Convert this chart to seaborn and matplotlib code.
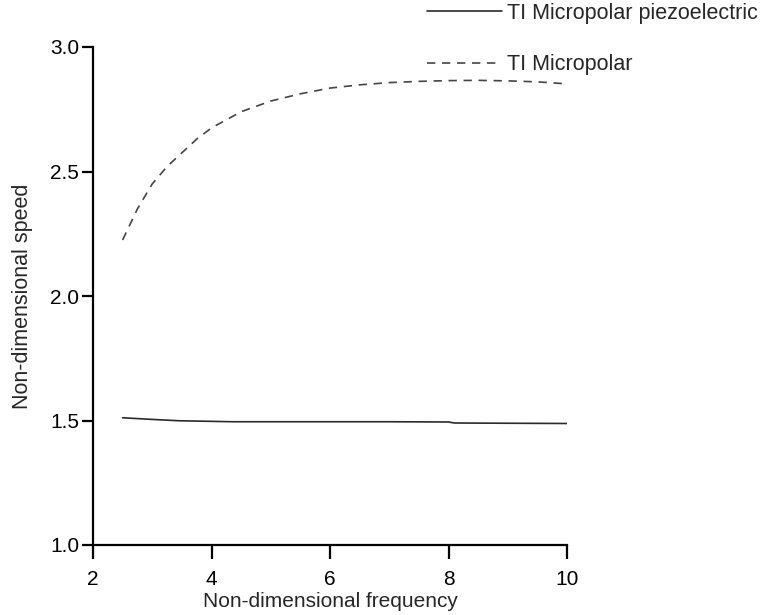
import matplotlib
matplotlib.use("Agg")
import matplotlib.pyplot as plt
import seaborn as sns
import pandas as pd
from matplotlib.lines import Line2D

# Data
freq_piezo = [2.5, 2.95, 3.45, 4.35, 5.0, 6.0, 7.0, 8.0, 8.1, 9.0, 10.0]
speed_piezo = [1.511, 1.505, 1.499, 1.495, 1.495, 1.495, 1.495, 1.494, 1.490, 1.489, 1.488]

freq_micro = [2.5, 2.75, 3.0, 3.25, 3.5, 3.75, 4.0, 4.5, 5.0, 5.5, 6.0, 6.5,
              7.0, 7.5, 8.0, 8.5, 9.0, 9.5, 10.0]
speed_micro = [2.225, 2.35, 2.45, 2.52, 2.575, 2.63, 2.675, 2.74, 2.783, 2.812,
               2.835, 2.848, 2.857, 2.862, 2.865, 2.866, 2.864, 2.86, 2.852]

labels = ["TI Micropolar piezoelectric", "TI Micropolar"]
x_ticks = [2, 4, 6, 8, 10]
y_ticks = [1.0, 1.5, 2.0, 2.5, 3.0]

df = pd.concat([
    pd.DataFrame({"freq": freq_piezo, "speed": speed_piezo, "series": labels[0]}),
    pd.DataFrame({"freq": freq_micro, "speed": speed_micro, "series": labels[1]}),
])

sns.set_style("ticks")
plt.rcParams["font.family"] = ["Liberation Sans", "DejaVu Sans"]

fig = plt.figure(figsize=(7.64, 6.15), dpi=100)
ax = fig.add_axes([93 / 764, 1 - 545 / 615, (567 - 93) / 764, (545 - 47) / 615])

colors = {labels[0]: "#2b2b2b", labels[1]: "#444444"}
sns.lineplot(data=df, x="freq", y="speed", hue="series", style="series",
             palette=colors, dashes={labels[0]: "", labels[1]: (5, 4)},
             linewidth=1.2, ax=ax, legend=False, sort=False)

ax.set_xlim(2, 10)
ax.set_ylim(1.0, 3.0)
ax.set_xticks(x_ticks)
ax.set_xticklabels([str(v) for v in x_ticks])
ax.set_yticks(y_ticks)
ax.set_yticklabels([f"{v:.1f}" for v in y_ticks])
ax.tick_params(axis="x", direction="out", length=10, width=1.6,
               labelsize=15, color="black", labelcolor="black", pad=8)
ax.tick_params(axis="y", direction="out", length=8, width=1.6,
               labelsize=15, color="black", labelcolor="black", pad=2)
for side in ["top", "right"]:
    ax.spines[side].set_visible(False)
for side in ["left", "bottom"]:
    ax.spines[side].set_linewidth(1.6)
    ax.spines[side].set_color("black")

ax.set_xlabel("Non-dimensional frequency", fontsize=15, labelpad=2)
ax.set_ylabel("Non-dimensional speed", fontsize=15.5, labelpad=12)

handles = [
    Line2D([], [], color=colors[labels[0]], lw=1.2, linestyle="-"),
    Line2D([], [], color=colors[labels[1]], lw=1.2, linestyle=(0, (5, 4))),
]
fig.legend(handles, labels, loc="upper left",
           bbox_to_anchor=(427 / 764, 1 - 3 / 615), frameon=False,
           fontsize=15.5, handlelength=3.5, handletextpad=0.2,
           labelspacing=1.4, borderpad=0, borderaxespad=0)

fig.savefig("out.png", dpi=100, facecolor="white")
